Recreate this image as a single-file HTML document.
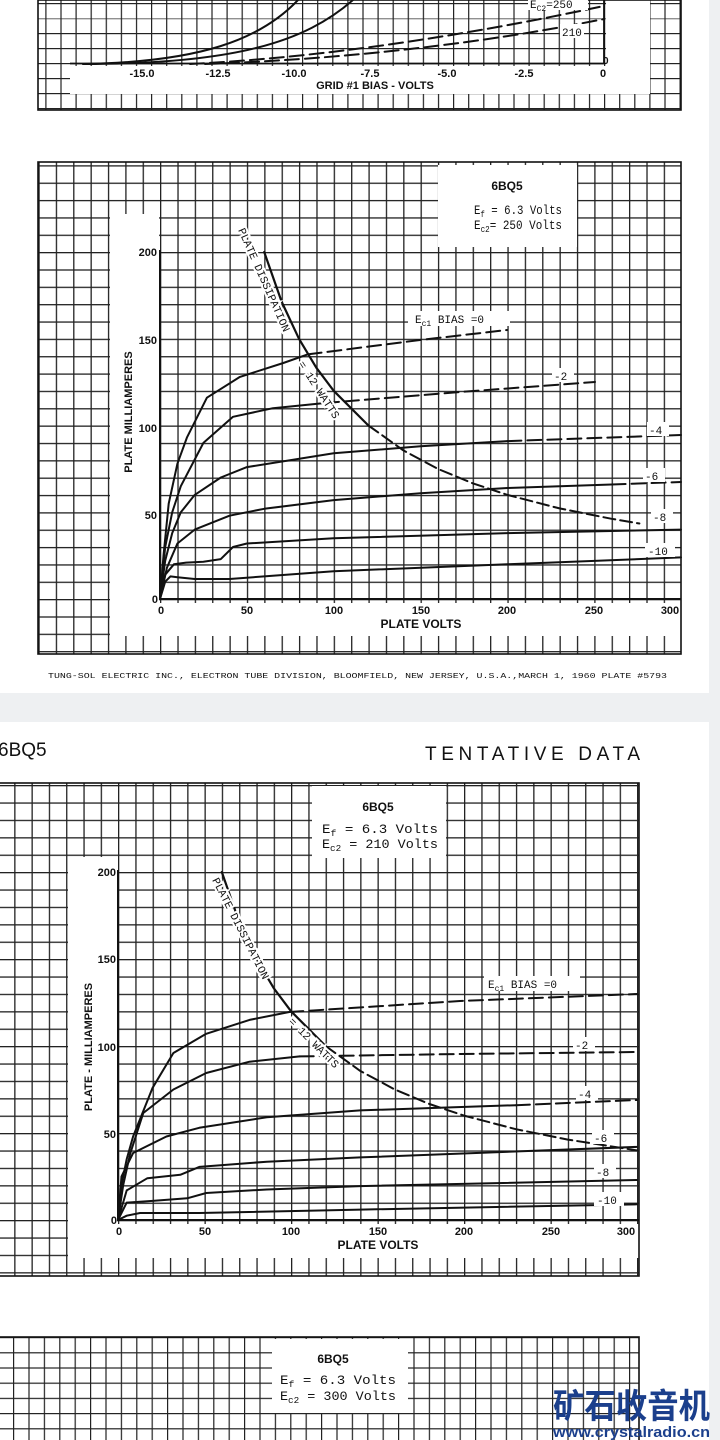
<!DOCTYPE html>
<html><head><meta charset="utf-8"><style>
html,body{margin:0;padding:0;background:#eef0f2;}
svg{display:block;}
.t{font-family:"Liberation Sans",sans-serif;font-weight:bold;fill:#111;}
.m{font-family:"Liberation Mono",monospace;fill:#111;}
polyline,path{stroke-linejoin:round;stroke-linecap:round;}
</style></head><body>
<svg width="720" height="1440" viewBox="0 0 720 1440" xmlns="http://www.w3.org/2000/svg">
<defs>
<pattern id="g1" patternUnits="userSpaceOnUse" x="604" y="63" width="15.1" height="15">
<rect x="0" y="0" width="15.1" height="1.2" fill="#222"/><rect x="0" y="0" width="1.2" height="15" fill="#222"/></pattern>
<pattern id="g2" patternUnits="userSpaceOnUse" x="160" y="599" width="17.37" height="17.35">
<rect x="0" y="0" width="17.37" height="1.3" fill="#222"/><rect x="0" y="0" width="1.3" height="17.35" fill="#222"/></pattern>
<pattern id="g3" patternUnits="userSpaceOnUse" x="118" y="1220" width="17.3" height="17.4">
<rect x="0" y="0" width="17.3" height="1.3" fill="#222"/><rect x="0" y="0" width="1.3" height="17.4" fill="#222"/></pattern>
<pattern id="g4" patternUnits="userSpaceOnUse" x="13" y="1337" width="15.4" height="15.2">
<rect x="0" y="0" width="15.4" height="1.2" fill="#222"/><rect x="0" y="0" width="1.2" height="15.2" fill="#222"/></pattern>
</defs>

<rect x="0" y="0" width="709" height="693" fill="#fff"/>
<rect x="0" y="722" width="709" height="718" fill="#fff"/>

<!-- Chart 1 -->
<rect x="38" y="0" width="643" height="110" fill="url(#g1)"/>
<rect x="70" y="66" width="580" height="28" fill="#fff"/>
<rect x="606" y="0" width="44" height="94" fill="#fff"/>
<rect x="38" y="0" width="643" height="110" fill="none" stroke="#111" stroke-width="1.6"/>
<line x1="70" y1="63.5" x2="604" y2="63.5" stroke="#111" stroke-width="1.8"/>
<line x1="604" y1="0" x2="604" y2="64" stroke="#111" stroke-width="1.8"/>
<g fill="none" stroke="#111" stroke-width="2">
<path d="M83,64 C200,62 260,40 298,0"/>
<path d="M83,64 C235,64 305,42 353,0"/>
<path d="M190,64 C350,56 500,28 604,6" stroke-dasharray="14 6"/>
<path d="M205,64 C380,58 520,36 604,19" stroke-dasharray="14 6"/>
</g>
<rect x="528" y="0" width="60" height="10" fill="#fff"/>
<text x="530" y="8" class="m" font-size="11">E<tspan font-size="8" dy="3">C2</tspan><tspan dy="-3">=250</tspan></text>
<rect x="560" y="24" width="24" height="14" fill="#fff"/>
<text x="562" y="36" class="m" font-size="11">210</text>
<g class="t" font-size="11" text-anchor="middle">
<text x="142" y="77">-15.0</text><text x="218" y="77">-12.5</text><text x="294" y="77">-10.0</text>
<text x="370" y="77">-7.5</text><text x="447" y="77">-5.0</text><text x="524" y="77">-2.5</text><text x="603" y="77">0</text>
<text x="375" y="89" font-size="11">GRID #1 BIAS - VOLTS</text>
</g>
<text x="603" y="64" class="t" font-size="10">0</text>

<!-- Chart 2 -->
<rect x="38" y="162" width="643" height="492" fill="url(#g2)"/>
<rect x="110" y="214" width="49" height="394" fill="#fff"/>
<rect x="110" y="603" width="571" height="33" fill="#fff"/>
<rect x="438" y="165" width="139" height="82" fill="#fff"/>
<rect x="38" y="162" width="643" height="492" fill="none" stroke="#111" stroke-width="1.6"/>
<line x1="160" y1="250" x2="160" y2="600" stroke="#111" stroke-width="2"/>
<line x1="159" y1="599" x2="681" y2="599" stroke="#111" stroke-width="2"/>
<text x="507" y="190" class="t" font-size="12" text-anchor="middle">6BQ5</text>
<text x="474" y="214" class="m" font-size="13" textLength="88" lengthAdjust="spacingAndGlyphs">E<tspan font-size="9" dy="3">f</tspan><tspan dy="-3"> = 6.3 Volts</tspan></text>
<text x="474" y="229" class="m" font-size="13" textLength="88" lengthAdjust="spacingAndGlyphs">E<tspan font-size="9" dy="3">c2</tspan><tspan dy="-3">= 250 Volts</tspan></text>
<g class="t" font-size="11" text-anchor="end">
<text x="157" y="256">200</text><text x="157" y="344">150</text><text x="157" y="432">100</text><text x="157" y="519">50</text><text x="158" y="603">0</text>
</g>
<g class="t" font-size="11" text-anchor="middle">
<text x="161" y="614">0</text><text x="247" y="614">50</text><text x="334" y="614">100</text><text x="421" y="614">150</text><text x="507" y="614">200</text><text x="594" y="614">250</text><text x="670" y="614">300</text>
<text x="421" y="628" font-size="12">PLATE VOLTS</text>
</g>
<text class="t" font-size="11" text-anchor="middle" transform="translate(132,412) rotate(-90)">PLATE MILLIAMPERES</text>
<g fill="none" stroke="#111" stroke-width="2">
<polyline points="160,599 163.5,555.6 168.7,503.6 177.4,463.7 186.9,437.6 206.9,397.7 239.9,376.9 283.3,363 307.6,354.4"/>
<polyline points="307.6,354.4 420,340 507,330" stroke-dasharray="14 6"/>
<polyline points="160,599 165.2,547 172.2,512.3 180.8,486.2 203.4,442.9 233,416.8 272.9,408.2 325,403"/>
<polyline points="325,403 460,392 595,382" stroke-dasharray="14 6"/>
<polyline points="160,599 165.2,560.8 172.2,533.1 180.8,512.3 194.7,494.9 220.8,477.5 246.9,467.1 333.7,453.3 420.6,446.3 507.4,441.1"/>
<polyline points="507.4,441.1 681,435" stroke-dasharray="14 6"/>
<polyline points="160,599 166.9,567.8 177.4,543.5 194.7,529.6 229.5,515.7 264.2,508.8 333.7,500.1 420.6,493.2 507.4,488 611.6,484.5"/>
<polyline points="611.6,484.5 681,482" stroke-dasharray="14 6"/>
<polyline points="160,599 165.2,574.7 173.9,564.3 186.1,562.6 203.4,561.7 220.8,559.1 233,547 246.9,543.5 333.7,538.3 507.4,533.1 681,529.6"/>
<polyline points="160,599 165.2,581.7 170.4,576.4 177.4,577.3 194.7,579 229.5,579 264.2,576.4 333.7,571.2 507.4,564.3 681,557.4"/>
<polyline points="264.2,252 281.6,301.6 299,338.8 316.3,367.7 333.7,390.8 368.4,425.5" stroke-width="2.2"/>
<polyline points="368.4,425.5 403.2,450.3 437.9,468.9 472.7,483.3 507.4,494.9 559.5,508.4 611.6,518.8 639.4,523.5" stroke-dasharray="12 5"/>
</g>
<g class="m" font-size="11">
<rect x="408" y="311" width="102" height="15" fill="#fff"/><text x="415" y="323">E<tspan font-size="8" dy="3">c1</tspan><tspan dy="-3"> BIAS =0</tspan></text>
<rect x="552" y="368" width="22" height="14" fill="#fff"/><text x="554" y="380">-2</text>
<rect x="647" y="422" width="22" height="14" fill="#fff"/><text x="649" y="434">-4</text>
<rect x="643" y="468" width="22" height="14" fill="#fff"/><text x="645" y="480">-6</text>
<rect x="651" y="509" width="22" height="14" fill="#fff"/><text x="653" y="521">-8</text>
<rect x="645" y="543" width="30" height="14" fill="#fff"/><text x="648" y="555">-10</text>
</g>
<g class="m" font-size="11" fill="#111">
<text transform="translate(238,230) rotate(66)" stroke="#fff" stroke-width="4" paint-order="stroke">PLATE DISSIPATION</text>
<text transform="translate(298,364) rotate(57)" stroke="#fff" stroke-width="4" paint-order="stroke">= 12 WATTS</text>
</g>
<text x="48" y="678" class="m" font-size="7.5" textLength="619" lengthAdjust="spacingAndGlyphs">TUNG-SOL ELECTRIC INC.,  ELECTRON TUBE DIVISION,  BLOOMFIELD, NEW JERSEY, U.S.A.,MARCH 1, 1960  PLATE #5793</text>

<text x="-2" y="756" font-family="Liberation Sans, sans-serif" font-size="19" fill="#111">6BQ5</text>
<text x="425" y="760" font-family="Liberation Sans, sans-serif" font-size="19" fill="#111" textLength="215" lengthAdjust="spacing">TENTATIVE DATA</text>

<!-- Chart 3 -->
<rect x="0" y="783" width="639" height="493" fill="url(#g3)"/>
<rect x="68" y="857" width="49" height="368" fill="#fff"/>
<rect x="68" y="1224" width="571" height="34" fill="#fff"/>
<rect x="312" y="786" width="134" height="72" fill="#fff"/>
<rect x="-1" y="783" width="640" height="493" fill="none" stroke="#111" stroke-width="1.6"/>
<line x1="118" y1="870" x2="118" y2="1221" stroke="#111" stroke-width="2"/>
<line x1="117" y1="1220" x2="639" y2="1220" stroke="#111" stroke-width="2"/>
<text x="378" y="811" class="t" font-size="12" text-anchor="middle">6BQ5</text>
<text x="322" y="833" class="m" font-size="13" textLength="116" lengthAdjust="spacingAndGlyphs">E<tspan font-size="9" dy="3">f</tspan><tspan dy="-3">  = 6.3 Volts</tspan></text>
<text x="322" y="848" class="m" font-size="13" textLength="116" lengthAdjust="spacingAndGlyphs">E<tspan font-size="9" dy="3">c2</tspan><tspan dy="-3"> = 210 Volts</tspan></text>
<g class="t" font-size="11" text-anchor="end">
<text x="116" y="876">200</text><text x="116" y="963">150</text><text x="116" y="1051">100</text><text x="116" y="1138">50</text><text x="117" y="1224">0</text>
</g>
<g class="t" font-size="11" text-anchor="middle">
<text x="119" y="1235">0</text><text x="205" y="1235">50</text><text x="291" y="1235">100</text><text x="378" y="1235">150</text><text x="464" y="1235">200</text><text x="551" y="1235">250</text><text x="626" y="1235">300</text>
<text x="378" y="1249" font-size="12">PLATE VOLTS</text>
</g>
<text class="t" font-size="11" text-anchor="middle" transform="translate(92,1047) rotate(-90)">PLATE - MILLIAMPERES</text>
<g fill="none" stroke="#111" stroke-width="2">
<polyline points="118,1220 121.5,1185.2 126.7,1159.1 133.1,1136.5 152.6,1087.8 173.4,1053 206.2,1033.8 249.5,1019.9 289.3,1012"/>
<polyline points="289.3,1012 460,1001 637,994" stroke-dasharray="14 6"/>
<polyline points="118,1220 123.2,1185.2 130.1,1153.9 143.3,1113 173.4,1089.5 206.2,1073 249.5,1061.7 299.7,1056.4"/>
<polyline points="299.7,1056.4 460,1054 637,1052" stroke-dasharray="14 6"/>
<polyline points="118,1220 121.5,1176.5 133.1,1153 166.4,1136.5 199.3,1127.8 266.8,1117.3 360.2,1110.4 515.9,1105.2"/>
<polyline points="515.9,1105.2 637,1100" stroke-dasharray="14 6"/>
<polyline points="118,1220 126.7,1190.4 147.4,1178.2 180.3,1174.8 199.3,1166.9 266.8,1161.7 360.2,1157.4 637,1146.9"/>
<polyline points="118,1220 126.7,1202.6 152.6,1200.9 187.2,1198.3 206.2,1193 266.8,1189.5 360.2,1186.1 637,1180"/>
<polyline points="118,1220 126.7,1215.7 140,1213 199.3,1213 360.2,1209.6 637,1204.3"/>
<polyline points="221.8,872 239.1,921.8 256.4,959 273.7,988.1 291,1011.2 325.6,1046" stroke-width="2.2"/>
<polyline points="325.6,1046 360.2,1070.9 394.8,1089.5 429.4,1104 464,1115.6 515.9,1129.2 567.8,1139.6 637,1150.4" stroke-dasharray="12 5"/>
</g>
<g class="m" font-size="11">
<rect x="484" y="976" width="96" height="15" fill="#fff"/><text x="488" y="988">E<tspan font-size="8" dy="3">c1</tspan><tspan dy="-3"> BIAS =0</tspan></text>
<rect x="573" y="1037" width="22" height="14" fill="#fff"/><text x="575" y="1049">-2</text>
<rect x="576" y="1086" width="22" height="14" fill="#fff"/><text x="578" y="1098">-4</text>
<rect x="592" y="1130" width="22" height="14" fill="#fff"/><text x="594" y="1142">-6</text>
<rect x="594" y="1164" width="22" height="14" fill="#fff"/><text x="596" y="1176">-8</text>
<rect x="594" y="1192" width="30" height="14" fill="#fff"/><text x="597" y="1204">-10</text>
</g>
<g class="m" font-size="11" fill="#111">
<text transform="translate(212,880) rotate(63)" stroke="#fff" stroke-width="4" paint-order="stroke">PLATE DISSIPATION</text>
<text transform="translate(288,1022) rotate(45)" stroke="#fff" stroke-width="4" paint-order="stroke">= 12 WATTS</text>
</g>

<!-- Chart 4 -->
<rect x="0" y="1337" width="639" height="103" fill="url(#g4)"/>
<rect x="272" y="1339" width="136" height="74" fill="#fff"/>
<rect x="-1" y="1337" width="640" height="110" fill="none" stroke="#111" stroke-width="1.6"/>
<text x="333" y="1363" class="t" font-size="12" text-anchor="middle">6BQ5</text>
<text x="280" y="1384" class="m" font-size="13" textLength="116" lengthAdjust="spacingAndGlyphs">E<tspan font-size="9" dy="3">f</tspan><tspan dy="-3">  = 6.3 Volts</tspan></text>
<text x="280" y="1400" class="m" font-size="13" textLength="116" lengthAdjust="spacingAndGlyphs">E<tspan font-size="9" dy="3">c2</tspan><tspan dy="-3"> = 300 Volts</tspan></text>

<text x="553" y="1418" font-family="Liberation Sans, 'Noto Sans CJK SC', sans-serif" font-weight="bold" font-size="34" fill="#1b3f8c" textLength="157" lengthAdjust="spacingAndGlyphs">矿石收音机</text>
<text x="553" y="1437" font-family="Liberation Sans, sans-serif" font-weight="bold" font-size="15" fill="#1b3f8c" textLength="157" lengthAdjust="spacingAndGlyphs">www.crystalradio.cn</text>
</svg>
</body></html>
